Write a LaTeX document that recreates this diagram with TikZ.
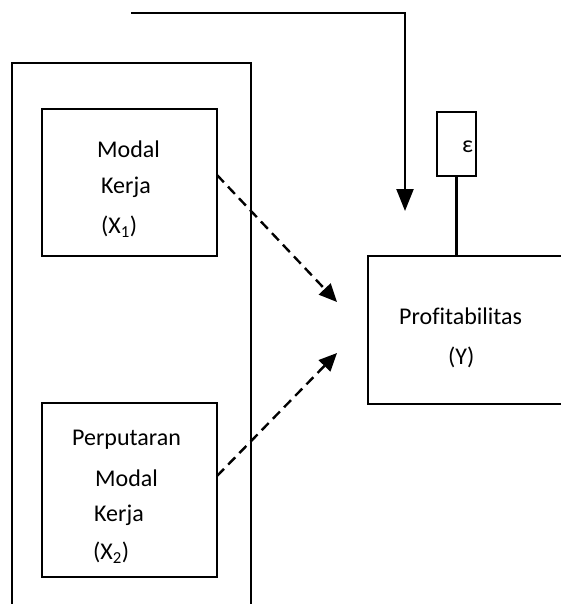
\documentclass[tikz,border=0pt]{standalone}
\usepackage{fontspec}
\setmainfont[Ligatures=NoCommon]{Carlito}
\usetikzlibrary{arrows.meta}
\begin{document}
\begin{tikzpicture}[x=1pt,y=-1pt,
  frame/.style={draw,line width=2.3pt},
  box/.style={draw,line width=2.3pt,inner sep=0pt,outer sep=0pt},
  txt/.style={font=\fontsize{24}{24}\selectfont,inner sep=0pt,anchor=west},
  dasharrow/.style={line width=2.4pt,dash pattern=on 10pt off 6pt,-{Triangle[length=18pt,width=16pt]}},
  solidarrow/.style={line width=2.3pt,-{Triangle[length=22pt,width=17pt]}}]
\useasboundingbox (0,0) rectangle (561,604);
% outer frame (open at bottom)
\draw[frame] (12,620) -- (12,63) -- (251,63) -- (251,620);
% boxes
\node[box,minimum width=175pt,minimum height=147pt] (m1) at (129.5,182.5) {};
\node[box,minimum width=175pt,minimum height=174pt] (m2) at (129.5,490) {};
\node[box,minimum width=222pt,minimum height=148pt] (y) at (479,330) {};
\node[box,minimum width=39pt,minimum height=64pt] (e) at (456.5,144) {};
% texts
\node[txt] (t11) at (97,149) {Modal};
\node[txt] (t12) at (101,187) {Kerja};
\node[txt] (t13) at (101,227) {(X\textsubscript{1})};
\node[txt] (t21) at (72,440) {Perputaran};
\node[txt] (t22) at (95,478) {Modal};
\node[txt] (t23) at (94,515) {Kerja};
\node[txt] (t24) at (93,553) {(X\textsubscript{2})};
\node[txt] (ty1) at (399,316) {Profitabilitas};
\node[txt] (ty2) at (448,357) {(Y)};
\node[txt] (te) at (462,147) {ε};
% connectors
\coordinate (a1) at (337,302);
\coordinate (a2) at (337,353);
\draw[dasharrow] ([yshift=7.5pt]m1.east) -- (a1);
\draw[dasharrow] ([yshift=14pt]m2.east) -- (a2);
\draw[line width=2.3pt] (e.south) -- (e.south |- y.north);
\coordinate (s0) at (131,13);
\coordinate (s1) at (405,13);
\coordinate (s2) at (405,211);
\draw[solidarrow] (s0) -- (s1) -- (s2);
\end{tikzpicture}
\end{document}
